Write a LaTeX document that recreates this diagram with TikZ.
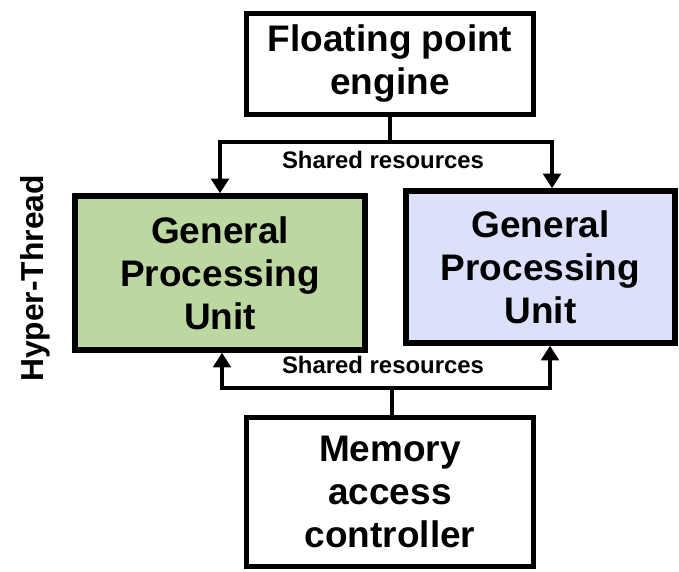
\documentclass[tikz,border=0pt]{standalone}
\usepackage{fontspec}
\setmainfont{Liberation Sans}
\usepackage{xcolor}
\usetikzlibrary{arrows.meta, positioning}
\definecolor{gpugreen}{RGB}{189,215,160}
\definecolor{gpublue}{RGB}{221,224,251}

\begin{document}
\begin{tikzpicture}[
    unitbox/.style={draw, line width=3.8pt, rectangle, align=center,
                    font=\fontsize{26.3}{30.6}\selectfont\bfseries},
    shared/.style={font=\fontsize{17}{20}\selectfont\bfseries},
    link/.style={line width=2.8pt},
    >={Triangle[length=10.5pt, width=12.5pt]}
]
\useasboundingbox (0,0) rectangle (16.975,-14.275);
%% Top: floating point engine
\node[unitbox, minimum width=7.175cm, minimum height=2.525cm] (fpe) at (9.75,-1.6)
    {Floating point\\engine};
%% The two processing units
\node[unitbox, fill=gpugreen, minimum width=7.25cm, minimum height=3.85cm] (gpu1) at (5.5,-6.825)
    {General\\Processing\\Unit};
\node[unitbox, fill=gpublue, minimum width=6.725cm, minimum height=3.8cm] (gpu2) at (13.5125,-6.675)
    {General\\Processing\\Unit};
%% Bottom: memory access controller
\node[unitbox, minimum width=7.175cm, minimum height=3.7125cm] (mac) at (9.75,-12.3)
    {Memory\\access\\controller};
%% Side label
\node[rotate=90, font=\fontsize{22.6}{26}\selectfont\bfseries] (ht) at (0.875,-6.96) {Hyper-Thread};
%% Upper shared resources
\coordinate (tj) at (9.75,-3.55);
\draw[link] (fpe.south -| tj) -- (tj);
\draw[link, ->] (tj) -| (gpu1.north);
\draw[link, ->] (tj) -| ([xshift=0.2875cm]gpu2.north);
\node[shared] (sr1) at (9.575,-4.0) {Shared resources};
%% Lower shared resources
\coordinate (bj) at (9.8,-9.7);
\draw[link] (mac.north -| bj) -- (bj);
\draw[link, ->] (bj) -| ([xshift=0.05cm]gpu1.south);
\draw[link, ->] (bj) -| ([xshift=0.2375cm]gpu2.south);
\node[shared] (sr2) at (9.575,-9.125) {Shared resources};
\end{tikzpicture}
\end{document}
